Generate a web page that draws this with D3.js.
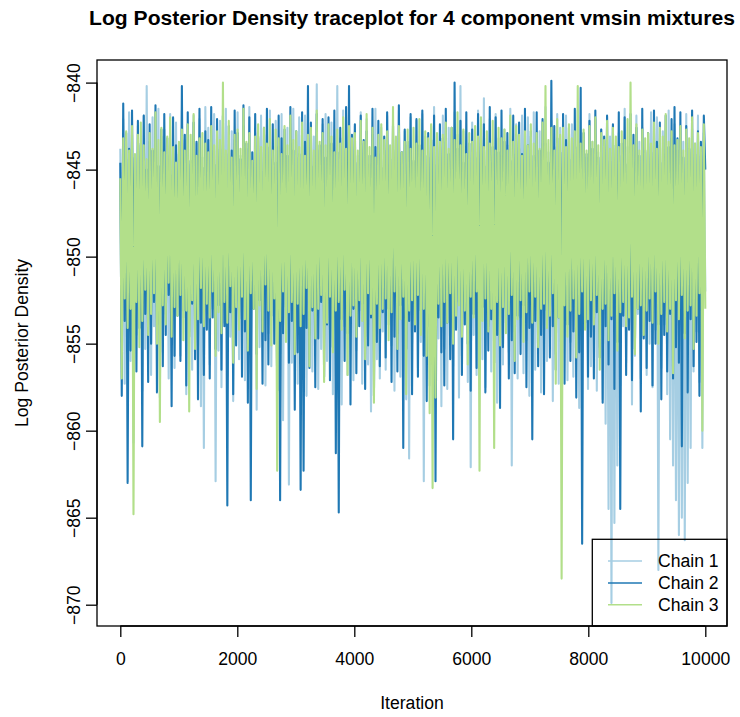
<!DOCTYPE html>
<html><head><meta charset="utf-8">
<script src="https://cdn.jsdelivr.net/npm/d3@7"></script>
<style>body{margin:0;background:#fff}svg{display:block}text{font-family:"Liberation Sans",Arial,Helvetica,sans-serif;fill:#000}</style>
</head><body>
<script>
const title = "Log Posterior Density traceplot for 4 component vmsin mixtures";
const xLabel = "Iteration";
const yLabel = "Log Posterior Density";
const xTicks = [0, 2000, 4000, 6000, 8000, 10000];
const yTicks = [-840, -845, -850, -855, -860, -865, -870];
const chainNames = ["Chain 1", "Chain 2", "Chain 3"];
const chainColors = ["#A6CEE3", "#1F78B4", "#B2DF8A"];
const nIter = 10000;

// Chain traces, read as alternating local highs / lows (~25 iterations apart)
const chain1 = [
-843.8,-854.9,-842.1,-857.3,-844.4,-853.2,-841.7,-856.0,-843.0,-860.7,-844.9,-854.5,-842.5,-852.8,-843.6,-857.7,-841.9,-855.3,-840.2,-853.6,
-843.4,-856.8,-842.0,-854.0,-844.6,-852.5,-841.5,-858.1,-843.1,-855.5,-842.7,-853.3,-844.2,-857.0,-841.8,-854.7,-843.7,-856.4,-842.3,-852.9,
-844.0,-855.7,-841.6,-853.5,-843.3,-857.9,-842.4,-854.3,-844.7,-856.5,-841.9,-852.7,-843.5,-855.1,-842.1,-858.6,-844.3,-861.0,-841.4,-854.1,
-842.6,-856.2,-843.9,-853.0,-841.8,-862.9,-844.5,-855.4,-842.2,-857.5,-843.6,-853.8,-841.5,-856.9,-844.1,-854.6,-842.8,-858.3,-843.3,-852.6,
-841.7,-855.9,-844.2,-853.4,-842.5,-857.1,-843.8,-854.8,-841.4,-856.7,-844.6,-852.9,-842.9,-858.8,-843.2,-855.2,-841.9,-853.7,-844.0,-857.4,
-843.0,-854.4,-841.6,-856.3,-844.4,-853.1,-842.2,-857.8,-843.7,-855.6,-841.8,-859.4,-844.1,-853.9,-842.6,-863.1,-843.5,-856.1,-841.5,-854.2,
-844.3,-857.3,-842.0,-853.6,-843.4,-855.0,-841.9,-858.0,-844.8,-854.5,-842.7,-856.6,-843.1,-852.8,-840.1,-857.6,-843.9,-855.3,-842.4,-853.2,
-841.8,-856.0,-843.6,-854.2,-842.3,-857.9,-844.0,-853.5,-840.2,-855.8,-843.2,-858.5,-841.6,-854.0,-844.5,-856.8,-842.9,-853.3,-843.7,-857.1,
-842.5,-855.4,-844.2,-853.1,-841.7,-857.3,-843.5,-854.6,-842.1,-856.2,-844.7,-858.9,-843.0,-853.8,-841.5,-855.9,-844.1,-857.0,-842.6,-854.3,
-843.9,-856.5,-841.9,-853.9,-844.4,-855.1,-842.4,-857.7,-843.3,-854.4,-841.6,-856.9,-844.0,-853.4,-842.8,-858.2,-843.6,-861.6,-842.0,-855.0,
-844.6,-853.7,-842.2,-856.4,-843.8,-854.9,-841.8,-862.9,-843.1,-855.6,-844.3,-857.4,-842.5,-853.2,-841.4,-856.0,-843.7,-854.7,-842.9,-858.6,
-841.9,-855.3,-843.4,-857.6,-842.6,-853.6,-844.5,-856.3,-841.7,-854.1,-843.0,-858.1,-840.2,-855.7,-842.8,-853.0,-844.2,-857.2,-843.5,-862.1,
-842.3,-854.5,-844.0,-856.8,-841.6,-853.3,-843.3,-855.9,-840.9,-857.5,-843.9,-854.0,-842.1,-856.6,-844.6,-853.7,-841.8,-858.4,-843.2,-855.1,
-844.2,-856.2,-842.7,-853.8,-843.6,-855.5,-841.5,-862.0,-844.1,-854.3,-842.4,-857.0,-843.8,-853.5,-841.9,-856.7,-844.4,-854.8,-842.0,-858.0,
-843.1,-853.9,-841.7,-856.5,-844.3,-855.2,-842.8,-857.8,-843.5,-854.2,-841.4,-856.0,-844.0,-853.4,-842.2,-858.3,-843.7,-855.6,-841.8,-857.3,
-842.6,-855.4,-844.5,-853.6,-841.9,-857.1,-843.2,-854.9,-842.4,-856.9,-844.1,-853.1,-841.6,-858.7,-843.6,-855.8,-842.9,-854.1,-844.3,-857.6,
-841.8,-856.3,-843.4,-854.5,-842.1,-857.7,-844.0,-855.2,-842.7,-858.2,-843.3,-859.6,-842.0,-864.5,-843.1,-869.9,-842.5,-865.3,-843.8,-862.0,
-842.9,-857.4,-844.2,-854.0,-841.5,-856.1,-843.7,-853.8,-842.3,-858.5,-844.6,-855.7,-841.9,-853.3,-843.4,-857.0,-842.6,-854.6,-844.0,-856.8,
-843.5,-855.0,-841.7,-857.5,-844.3,-854.2,-842.0,-868.0,-843.6,-856.4,-842.8,-853.9,-844.1,-857.9,-841.6,-860.5,-843.2,-862.0,-842.4,-864.0,
-843.9,-866.0,-842.5,-865.0,-843.4,-866.3,-841.8,-863.0,-844.0,-861.0,-842.7,-856.6,-843.5,-854.3,-841.9,-857.2,-844.2,-861.0,-842.9,-852.0
];
const chain2 = [
-844.6,-858.0,-841.2,-853.7,-842.9,-863.0,-843.8,-855.4,-841.6,-852.9,-844.3,-856.6,-842.2,-854.1,-843.5,-860.9,-841.9,-853.3,-845.0,-857.2,
-842.4,-855.0,-843.9,-852.6,-841.3,-857.8,-844.8,-853.9,-842.7,-856.3,-841.8,-854.5,-843.2,-852.2,-845.3,-858.6,-842.0,-855.7,-843.6,-853.4,
-844.1,-856.0,-840.2,-853.1,-843.0,-857.4,-841.7,-854.6,-844.5,-852.7,-842.3,-855.9,-843.4,-858.2,-841.5,-853.8,-844.9,-856.8,-842.8,-854.2,
-843.3,-857.0,-841.4,-853.5,-844.7,-855.3,-842.1,-852.8,-843.8,-856.5,-841.9,-854.0,-845.2,-864.3,-842.5,-853.2,-843.9,-857.9,-841.6,-855.1,
-842.9,-853.6,-844.4,-856.9,-841.3,-854.3,-843.5,-858.4,-842.0,-864.0,-844.0,-853.0,-841.8,-855.6,-843.1,-852.5,-845.1,-857.3,-842.6,-854.8,
-841.5,-856.2,-843.7,-853.4,-842.4,-855.0,-844.6,-857.7,-841.9,-864.0,-843.2,-854.4,-842.7,-852.9,-844.2,-856.1,-841.4,-853.7,-843.9,-858.8,
-842.8,-855.5,-844.1,-863.4,-841.7,-862.3,-843.4,-854.1,-840.2,-856.4,-842.3,-853.1,-844.8,-857.5,-841.8,-854.7,-843.6,-852.6,-842.1,-856.9,
-844.3,-853.9,-842.0,-857.1,-843.5,-855.2,-841.6,-861.3,-844.0,-864.7,-842.6,-853.6,-843.8,-856.0,-841.4,-854.4,-840.2,-858.5,-843.0,-853.0,
-842.4,-856.7,-844.6,-854.0,-841.9,-852.7,-843.3,-857.6,-842.8,-855.1,-844.2,-853.5,-841.5,-858.0,-843.7,-854.9,-842.2,-856.3,-844.9,-853.2,
-843.1,-855.8,-841.7,-853.0,-844.4,-857.2,-842.5,-854.6,-843.9,-856.6,-841.3,-852.8,-844.0,-861.0,-842.7,-855.3,-843.4,-853.7,-841.8,-857.9,
-844.5,-854.3,-842.1,-856.9,-843.6,-853.1,-841.6,-855.7,-844.2,-858.3,-842.9,-854.0,-843.3,-856.2,-841.9,-862.9,-844.7,-853.5,-842.4,-855.5,
-843.2,-857.4,-841.5,-853.8,-844.1,-855.9,-842.6,-860.5,-840.0,-854.2,-843.8,-852.6,-842.2,-856.8,-844.6,-853.9,-841.7,-855.0,-843.5,-857.7,
-842.7,-853.3,-844.3,-856.4,-841.8,-854.7,-843.1,-852.9,-842.4,-857.8,-844.8,-855.4,-841.4,-853.6,-843.7,-856.1,-842.0,-854.5,-844.0,-858.7,
-841.6,-855.2,-843.4,-853.0,-842.9,-857.0,-844.5,-854.8,-841.9,-856.7,-843.0,-853.4,-842.3,-855.6,-844.1,-852.8,-841.5,-857.5,-843.6,-854.1,
-842.8,-860.5,-844.2,-853.7,-841.7,-856.3,-843.9,-854.5,-842.1,-857.9,-843.5,-853.1,-844.6,-855.8,-839.9,-854.0,-842.5,-856.5,-843.2,-853.5,
-844.0,-855.1,-841.8,-857.3,-843.3,-853.9,-842.6,-856.0,-844.4,-854.3,-841.5,-858.1,-843.7,-855.5,-840.3,-866.5,-842.9,-853.8,-844.1,-856.9,
-842.2,-854.6,-843.8,-857.0,-841.6,-853.2,-844.3,-855.8,-842.7,-858.4,-843.1,-854.0,-841.9,-856.2,-844.5,-853.6,-842.4,-857.6,-843.6,-854.9,
-841.7,-864.5,-843.5,-853.4,-842.0,-856.8,-844.7,-854.2,-841.8,-857.1,-843.0,-855.3,-842.6,-853.0,-844.2,-858.9,-841.5,-854.7,-843.9,-856.4,
-842.9,-853.7,-844.0,-857.4,-841.6,-855.0,-843.4,-853.9,-842.3,-858.2,-844.6,-854.5,-841.9,-856.6,-843.7,-853.3,-842.1,-857.0,-841.4,-855.2,
-843.2,-856.1,-841.7,-860.9,-844.3,-854.4,-842.5,-857.8,-843.8,-853.6,-841.6,-856.3,-844.1,-854.9,-842.8,-858.0,-843.4,-853.2,-841.9,-845.0
];
const chain3 = [
-845.5,-857.0,-843.2,-852.4,-842.8,-854.1,-843.9,-853.0,-842.5,-864.8,-844.1,-852.6,-843.0,-855.2,-842.3,-853.7,-843.6,-851.9,-844.4,-854.5,
-842.9,-853.3,-843.8,-852.1,-841.7,-855.0,-843.3,-859.5,-842.6,-852.8,-844.0,-853.9,-843.1,-851.5,-842.0,-854.6,-843.7,-852.9,-844.6,-853.4,
-843.4,-852.2,-842.7,-854.8,-843.9,-853.1,-842.4,-858.9,-843.0,-852.5,-841.8,-855.3,-844.2,-853.6,-843.2,-851.8,-842.9,-854.0,-843.5,-852.7,
-844.0,-853.5,-842.5,-852.0,-843.6,-855.7,-842.8,-853.2,-843.3,-854.4,-840.0,-852.6,-843.9,-853.8,-842.2,-851.7,-844.3,-856.1,-843.0,-852.9,
-842.7,-854.2,-843.8,-852.3,-841.5,-853.6,-843.4,-855.4,-842.9,-852.1,-844.5,-853.0,-843.1,-857.6,-842.4,-852.8,-843.7,-854.3,-842.6,-851.6,
-843.5,-853.1,-842.1,-855.1,-843.9,-852.4,-842.7,-862.3,-843.2,-853.7,-844.1,-852.0,-842.5,-854.9,-843.6,-853.2,-841.9,-852.6,-843.3,-855.6,
-842.8,-852.7,-843.7,-854.0,-842.3,-853.3,-844.2,-851.8,-843.0,-856.3,-842.6,-852.9,-843.9,-854.7,-841.6,-853.0,-843.4,-852.2,-842.9,-857.2,
-843.6,-853.8,-842.4,-852.3,-843.1,-855.5,-844.0,-853.1,-842.7,-852.6,-843.5,-854.2,-842.0,-851.9,-843.8,-856.8,-842.5,-853.4,-843.2,-852.8,
-842.9,-854.6,-843.9,-852.5,-842.2,-853.7,-843.4,-855.9,-841.8,-852.1,-843.7,-853.3,-842.6,-858.4,-844.3,-852.7,-843.0,-854.1,-842.4,-853.0,
-843.3,-852.4,-842.8,-854.8,-843.6,-853.2,-841.4,-852.0,-843.1,-855.3,-842.5,-853.6,-844.0,-852.3,-843.4,-857.9,-842.7,-853.1,-843.8,-852.5,
-842.6,-853.9,-843.5,-852.2,-842.1,-854.5,-843.9,-853.0,-842.8,-855.7,-843.2,-859.0,-842.4,-863.3,-843.7,-858.1,-842.9,-852.7,-843.4,-854.0,
-843.0,-852.6,-842.3,-853.8,-843.8,-852.1,-842.6,-855.0,-843.3,-853.4,-841.7,-852.8,-843.6,-854.6,-842.7,-853.1,-844.1,-856.2,-842.9,-852.3,
-843.4,-853.5,-842.5,-852.0,-843.1,-862.3,-842.0,-853.7,-843.7,-852.4,-842.8,-854.3,-843.5,-853.0,-842.2,-861.0,-843.9,-852.6,-842.6,-855.1,
-843.2,-852.9,-842.7,-854.4,-843.9,-853.3,-841.9,-852.2,-843.4,-856.0,-842.5,-853.6,-843.0,-852.5,-844.2,-854.9,-842.8,-853.2,-843.6,-852.0,
-842.4,-853.8,-843.5,-852.3,-842.9,-855.2,-843.8,-853.0,-842.3,-852.7,-840.2,-854.1,-843.3,-853.4,-842.6,-852.1,-843.9,-857.3,-842.1,-853.5,
-843.0,-868.5,-842.6,-852.8,-843.7,-854.6,-842.4,-853.1,-843.2,-852.4,-842.8,-855.8,-840.2,-853.3,-843.5,-852.0,-842.7,-854.2,-843.9,-853.6,
-842.5,-852.5,-843.4,-853.9,-842.0,-852.2,-843.6,-856.5,-842.9,-853.0,-843.3,-852.7,-842.2,-854.8,-843.8,-853.4,-842.6,-852.1,-843.1,-855.4,
-843.7,-853.2,-842.8,-852.6,-843.3,-854.0,-842.1,-853.5,-840.0,-852.3,-843.6,-855.6,-842.4,-853.0,-843.9,-852.8,-842.7,-854.5,-843.2,-853.1,
-842.9,-852.4,-843.5,-853.8,-842.3,-852.0,-843.8,-855.0,-842.6,-853.3,-843.1,-852.6,-841.8,-854.3,-843.4,-853.0,-842.8,-856.7,-843.6,-852.5,
-843.3,-853.6,-842.5,-852.2,-843.9,-854.7,-842.7,-853.1,-843.2,-852.8,-842.0,-855.3,-843.5,-853.4,-842.9,-852.1,-843.7,-860.0,-842.4,-853.0
];
const chains = [chain1, chain2, chain3];

const W = 740, H = 717;
const plot = {left: 97, right: 727, top: 60, bottom: 626};
const svg = d3.select("body").append("svg").attr("width", W).attr("height", H);

const x = d3.scaleLinear().domain([0, 10000]).range([120.3, 705.3]);
const y = d3.scaleLinear().domain([-840, -870]).range([82.6, 604.7]);

svg.append("clipPath").attr("id", "clip").append("rect")
  .attr("x", plot.left).attr("y", plot.top)
  .attr("width", plot.right - plot.left).attr("height", plot.bottom - plot.top);

const g = svg.append("g").attr("clip-path", "url(#clip)");
chains.forEach((vals, ci) => {
  const n = vals.length;
  const line = d3.line().x((d, i) => x(i * nIter / (n - 1))).y(d => y(d));
  g.append("path").datum(vals).attr("d", line)
    .attr("fill", "none").attr("stroke", chainColors[ci])
    .attr("stroke-width", 2.1).attr("stroke-linejoin", "round");
});

// box
svg.append("rect").attr("x", plot.left).attr("y", plot.top)
  .attr("width", plot.right - plot.left).attr("height", plot.bottom - plot.top)
  .attr("fill", "none").attr("stroke", "#000").attr("stroke-width", 1.3);

const fmt = v => String(v).replace("-", "\u2212");
// x axis
const xa = svg.append("g").attr("transform", `translate(0,${plot.bottom})`)
  .call(d3.axisBottom(x).tickValues(xTicks).tickSize(11).tickPadding(16).tickFormat(d => d));
xa.select(".domain").attr("stroke", "#000").attr("stroke-width", 1.3).attr("d", `M${x(0)},0H${x(10000)}`);
xa.selectAll(".tick line").attr("stroke", "#000").attr("stroke-width", 1.3);
xa.selectAll(".tick text").attr("font-size", 17.6).attr("font-family", "Liberation Sans, Arial, sans-serif").attr("fill", "#000");

// y axis
const ya = svg.append("g").attr("transform", `translate(${plot.left},0)`)
  .call(d3.axisLeft(y).tickValues(yTicks).tickSize(11).tickFormat(fmt));
ya.select(".domain").attr("stroke", "#000").attr("stroke-width", 1.3).attr("d", `M0,${y(-840)}V${y(-870)}`);
ya.selectAll(".tick line").attr("stroke", "#000").attr("stroke-width", 1.3);
ya.selectAll(".tick text").attr("font-size", 17.6).attr("font-family", "Liberation Sans, Arial, sans-serif").attr("fill", "#000")
  .attr("x", 0).attr("dy", null).attr("text-anchor", "middle")
  .attr("transform", "translate(-17,0) rotate(-90)");

// labels
svg.append("text").attr("x", (plot.left + plot.right) / 2).attr("y", 25)
  .attr("text-anchor", "middle").attr("font-weight", "bold").attr("font-size", 21.1).text(title);
svg.append("text").attr("x", (plot.left + plot.right) / 2).attr("y", 709)
  .attr("text-anchor", "middle").attr("font-size", 17.6).text(xLabel);
svg.append("text").attr("transform", `translate(28,${(plot.top + plot.bottom) / 2}) rotate(-90)`)
  .attr("text-anchor", "middle").attr("font-size", 17.6).text(yLabel);

// legend (no fill, like R)
const lg = svg.append("g");
lg.append("rect").attr("x", 592.3).attr("y", 539.3).attr("width", plot.right - 592.3).attr("height", plot.bottom - 539.3)
  .attr("fill", "none").attr("stroke", "#000").attr("stroke-width", 1.3);
chainNames.forEach((name, i) => {
  const ly = 561 + i * 21.9;
  lg.append("line").attr("x1", 608).attr("x2", 642).attr("y1", ly).attr("y2", ly)
    .attr("stroke", chainColors[i]).attr("stroke-width", 1.5);
  lg.append("text").attr("x", 658).attr("y", ly).attr("dy", "0.35em").attr("font-size", 17.6).text(name);
});
</script>
</body></html>
